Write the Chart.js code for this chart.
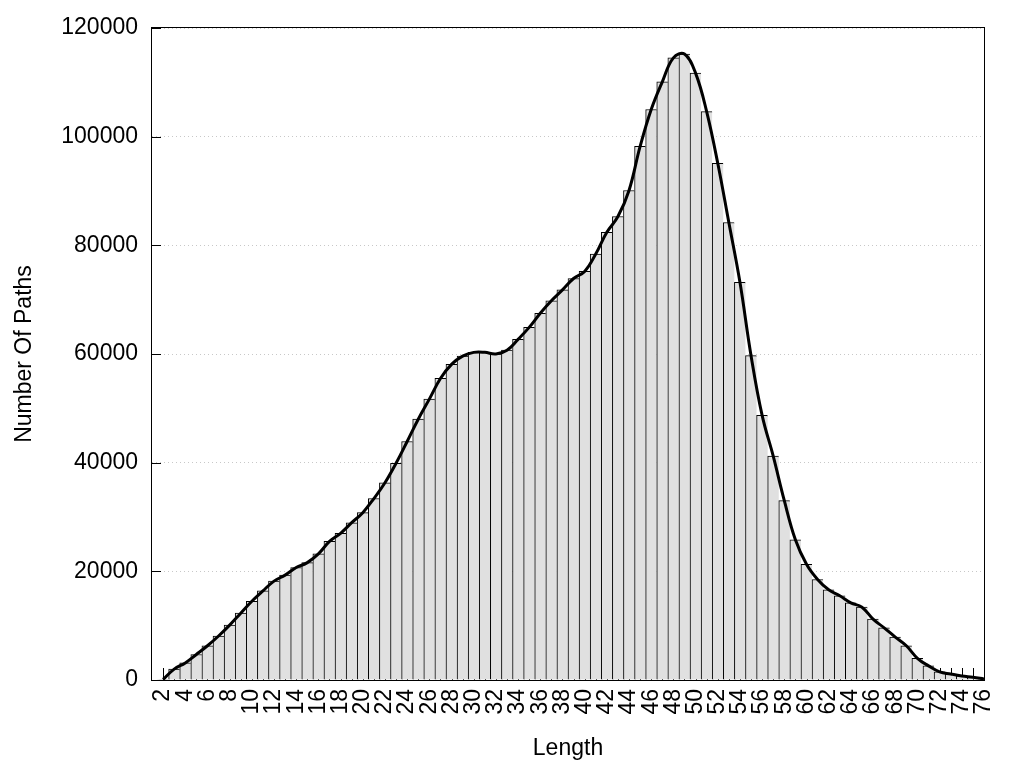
<!DOCTYPE html>
<html>
<head>
<meta charset="utf-8">
<script src="https://cdn.jsdelivr.net/npm/chart.js@4"></script>
<style>
    body { margin: 0; background: #fff; }
    #wrap { width: 1024px; height: 768px; }
</style>
</head>
<body>
<div id="wrap"><canvas id="chart" width="1024" height="768"></canvas></div>
<script>
// Path length (x) and number of paths (bar height)
const lengths = [
    2, 3, 4, 5, 6, 7, 8, 9, 10, 11, 12, 13, 14, 15, 16, 17, 18, 19, 20,
    21, 22, 23, 24, 25, 26, 27, 28, 29, 30, 31, 32, 33, 34, 35, 36, 37, 38, 39, 40,
    41, 42, 43, 44, 45, 46, 47, 48, 49, 50, 51, 52, 53, 54, 55, 56, 57, 58, 59, 60,
    61, 62, 63, 64, 65, 66, 67, 68, 69, 70, 71, 72, 73, 74, 75, 76
];
const pathCounts = [
    100, 2000, 3150, 4700, 6300, 8100, 10100, 12300, 14500, 16400, 18200, 19300, 20700, 21600, 23200, 25500, 27000, 28950, 30800,
    33400, 36300, 39900, 43900, 48000, 51700, 55500, 58100, 59600, 60300, 60300, 60000, 60700, 62700, 64900, 67500, 69800, 71800, 73900, 75200,
    78400, 82400, 85300, 90100, 98200, 105000, 110100, 114500, 115200, 111700, 104600, 95100, 84200, 73200, 59700, 48700, 41200, 33000, 25800, 21300,
    18500, 16600, 15500, 14200, 13400, 11200, 9600, 7900, 6300, 4000, 2600, 1500, 1100, 750, 500, 200
];
const xTickLabels = [
    2, 4, 6, 8, 10, 12, 14, 16, 18, 20, 22, 24, 26, 28, 30, 32, 34, 36, 38,
    40, 42, 44, 46, 48, 50, 52, 54, 56, 58, 60, 62, 64, 66, 68, 70, 72, 74, 76
];
const yTickLabels = [0, 20000, 40000, 60000, 80000, 100000, 120000];

const points = lengths.map((x, i) => ({ x: x, y: pathCounts[i] }));

Chart.defaults.font.family = "'Liberation Sans', Arial, sans-serif";
Chart.defaults.font.size = 23;
Chart.defaults.color = '#000';

// gnuplot-like inward tick marks (behind bars) and the plot frame
const frame = {
    id: 'frame',
    beforeDatasetsDraw(chart) {
        const { ctx, chartArea: a, scales } = chart;
        ctx.save();
        ctx.strokeStyle = '#000';
        ctx.lineWidth = 1;
        ctx.beginPath();
        lengths.forEach(v => {
            const x = Math.round(scales.x.getPixelForValue(v)) + 0.5;
            ctx.moveTo(x, a.bottom);
            ctx.lineTo(x, a.bottom - 12);
        });
        ctx.stroke();
        ctx.restore();
    },
    afterDatasetsDraw(chart) {
        const { ctx, chartArea: a, scales } = chart;
        ctx.save();
        ctx.strokeStyle = '#000';
        ctx.lineWidth = 1;
        ctx.beginPath();
        yTickLabels.forEach(v => {
            const y = Math.round(scales.y.getPixelForValue(v)) + 0.5;
            ctx.moveTo(a.left, y);
            ctx.lineTo(a.left + 9, y);
        });
        ctx.stroke();
        ctx.strokeRect(a.left - 0.5, a.top - 0.5, a.right - a.left + 1, a.bottom - a.top + 1);
        ctx.restore();
    }
};

new Chart(document.getElementById('chart'), {
    type: 'bar',
    data: {
        datasets: [
            {
                type: 'line',
                data: points,
                borderColor: '#000',
                borderWidth: 3,
                pointRadius: 0,
                tension: 0.4,
                fill: false,
                order: 0
            },
            {
                type: 'bar',
                data: points,
                backgroundColor: '#e0e0e0',
                borderColor: '#000',
                borderWidth: { top: 1, left: 1, right: 0, bottom: 0 },
                borderSkipped: false,
                barPercentage: 1,
                categoryPercentage: 1,
                order: 1
            }
        ]
    },
    options: {
        responsive: false,
        devicePixelRatio: 1,
        animation: false,
        layout: { padding: { top: 28, right: 40, left: 0, bottom: 0 } },
        plugins: {
            legend: { display: false },
            tooltip: { enabled: false }
        },
        scales: {
            x: {
                type: 'linear',
                offset: false,
                min: 1,
                max: 76,
                afterFit: scale => { scale.height = 88; },
                afterBuildTicks: scale => { scale.ticks = xTickLabels.map(v => ({ value: v })); },
                grid: { display: false, drawTicks: false },
                border: { display: false },
                ticks: {
                    autoSkip: false,
                    minRotation: 90,
                    maxRotation: 90,
                    padding: 9,
                    callback: v => String(v)
                },
                title: {
                    display: true,
                    text: 'Length',
                    font: { size: 23, lineHeight: 1.2 },
                    padding: { top: 0, bottom: 6 }
                }
            },
            y: {
                min: 0,
                max: 120000,
                afterFit: scale => { scale.width = 152; },
                afterBuildTicks: scale => { scale.ticks = yTickLabels.map(v => ({ value: v })); },
                grid: { color: '#c8c8c8', lineWidth: 1, drawTicks: false },
                border: { display: false, dash: [1, 3] },
                ticks: {
                    padding: 14,
                    callback: v => String(v)
                },
                title: {
                    display: true,
                    text: 'Number Of Paths',
                    font: { size: 23, lineHeight: 1.2 },
                    padding: { top: 11, bottom: 0 }
                }
            }
        }
    },
    plugins: [frame]
});
</script>
</body>
</html>
